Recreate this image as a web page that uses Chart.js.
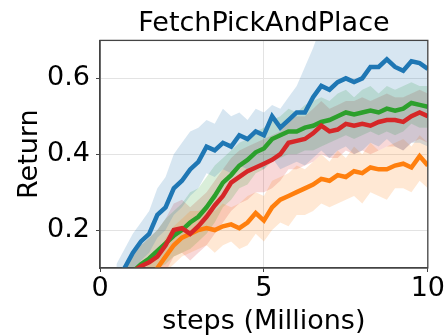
<!DOCTYPE html>
<html>
<head>
<meta charset="utf-8">
<script src="https://cdn.jsdelivr.net/npm/chart.js@4.4.1/dist/chart.umd.min.js"></script>
<style>
  body { margin: 0; background: #fff; }
  canvas { display: block; }
</style>
</head>
<body>
<canvas id="chart" width="448" height="335"></canvas>
<script>
// steps in millions
var steps = [0.5,0.75,1,1.25,1.5,1.75,2,2.25,2.5,2.75,3,3.25,3.5,3.75,4,4.25,4.5,4.75,5,
  5.25,5.5,5.75,6,6.25,6.5,6.75,7,7.25,7.5,7.75,8,8.25,8.5,8.75,9,9.25,9.5,9.75,10];

var blueMean = [0.07,0.10,0.14,0.17,0.19,0.24,0.26,0.31,0.33,0.36,0.38,0.42,0.41,0.43,0.42,0.45,0.44,0.46,0.45,
  0.50,0.47,0.49,0.51,0.51,0.55,0.58,0.57,0.59,0.60,0.59,0.60,0.63,0.63,0.65,0.63,0.62,0.645,0.64,0.625];
var blueHi = [0.11,0.15,0.19,0.22,0.25,0.31,0.34,0.40,0.43,0.46,0.47,0.49,0.48,0.52,0.50,0.51,0.49,0.52,0.51,
  0.53,0.52,0.55,0.58,0.63,0.68,0.74,0.76,0.78,0.78,0.78,0.78,0.78,0.78,0.78,0.78,0.78,0.78,0.78,0.78];
var blueLo = [0.03,0.06,0.09,0.12,0.14,0.18,0.20,0.24,0.26,0.29,0.31,0.35,0.34,0.36,0.35,0.37,0.36,0.37,0.36,
  0.39,0.36,0.37,0.38,0.37,0.39,0.41,0.39,0.41,0.42,0.40,0.41,0.43,0.42,0.44,0.42,0.41,0.43,0.43,0.42];

var orangeMean = [0.02,0.03,0.04,0.05,0.07,0.10,0.13,0.16,0.18,0.19,0.20,0.205,0.20,0.21,0.215,0.205,0.22,0.245,0.225,
  0.26,0.28,0.29,0.30,0.31,0.32,0.335,0.33,0.345,0.34,0.355,0.35,0.365,0.36,0.36,0.37,0.375,0.365,0.395,0.37];
var orangeHi = [0.05,0.06,0.08,0.09,0.11,0.14,0.18,0.21,0.23,0.25,0.25,0.26,0.25,0.27,0.26,0.27,0.29,0.30,0.29,
  0.33,0.34,0.35,0.37,0.36,0.38,0.40,0.38,0.41,0.39,0.42,0.40,0.43,0.41,0.42,0.43,0.44,0.42,0.45,0.43];
var orangeLo = [0.0,0.0,0.01,0.02,0.04,0.06,0.09,0.11,0.13,0.14,0.15,0.16,0.14,0.16,0.17,0.15,0.16,0.19,0.17,
  0.20,0.22,0.21,0.24,0.24,0.25,0.27,0.26,0.27,0.28,0.29,0.27,0.30,0.29,0.28,0.31,0.31,0.30,0.33,0.31];

var greenMean = [0.05,0.07,0.09,0.11,0.125,0.145,0.165,0.185,0.20,0.22,0.235,0.26,0.29,0.325,0.345,0.37,0.385,0.405,0.415,
  0.44,0.45,0.46,0.46,0.47,0.475,0.485,0.49,0.50,0.51,0.505,0.51,0.515,0.51,0.52,0.515,0.52,0.535,0.53,0.525];
var greenHi = [0.08,0.11,0.13,0.16,0.18,0.20,0.23,0.25,0.27,0.30,0.31,0.34,0.37,0.39,0.41,0.43,0.44,0.46,0.47,
  0.49,0.50,0.52,0.51,0.53,0.54,0.55,0.54,0.56,0.57,0.55,0.57,0.58,0.56,0.58,0.57,0.58,0.59,0.58,0.58];
var greenLo = [0.02,0.03,0.05,0.07,0.08,0.10,0.11,0.13,0.14,0.15,0.17,0.19,0.22,0.26,0.28,0.31,0.32,0.35,0.36,
  0.38,0.39,0.40,0.40,0.41,0.41,0.42,0.43,0.44,0.45,0.44,0.45,0.46,0.45,0.46,0.45,0.46,0.48,0.47,0.47];

var redMean = [0.04,0.07,0.09,0.105,0.115,0.13,0.16,0.20,0.205,0.19,0.21,0.235,0.265,0.29,0.325,0.34,0.355,0.365,0.375,
  0.385,0.40,0.43,0.435,0.44,0.455,0.475,0.46,0.465,0.48,0.475,0.48,0.475,0.485,0.49,0.49,0.485,0.50,0.51,0.50];
var redHi = [0.08,0.11,0.14,0.16,0.18,0.20,0.23,0.27,0.28,0.26,0.28,0.30,0.33,0.36,0.39,0.41,0.42,0.43,0.44,
  0.45,0.46,0.49,0.50,0.50,0.52,0.54,0.52,0.53,0.54,0.54,0.55,0.54,0.55,0.56,0.55,0.55,0.56,0.57,0.56];
var redLo = [0.0,0.03,0.04,0.05,0.06,0.07,0.09,0.13,0.14,0.12,0.14,0.16,0.19,0.22,0.25,0.27,0.28,0.30,0.30,
  0.31,0.33,0.36,0.36,0.37,0.38,0.40,0.39,0.39,0.41,0.40,0.41,0.40,0.41,0.42,0.42,0.41,0.43,0.44,0.43];

var xTicks = [0, 5, 10];
var yTicks = [0.2, 0.4, 0.6];

var series = [
  {mean: blueMean, hi: blueHi, lo: blueLo, rgb: "31,119,180"},
  {mean: orangeMean, hi: orangeHi, lo: orangeLo, rgb: "255,127,14"},
  {mean: greenMean, hi: greenHi, lo: greenLo, rgb: "44,160,44"},
  {mean: redMean, hi: redHi, lo: redLo, rgb: "214,39,40"}
];

function pts(arr) {
  return arr.map(function (v, i) { return {x: steps[i], y: v}; });
}

var datasets = [];
series.forEach(function (s, k) {
  // band: upper edge filled down to the lower edge
  datasets.push({data: pts(s.hi), fill: "+1", backgroundColor: "rgba(" + s.rgb + ",0.18)",
    borderWidth: 0, pointRadius: 0, order: 20});
  datasets.push({data: pts(s.lo), fill: false, borderWidth: 0, pointRadius: 0, order: 20});
  datasets.push({data: pts(s.mean), fill: false, borderColor: "rgb(" + s.rgb + ")",
    borderWidth: 4.5, pointRadius: 0, tension: 0, order: 4 - k});
});

var frame = {
  id: "frame",
  afterDraw: function (chart) {
    var a = chart.chartArea, c = chart.ctx;
    c.save();
    c.strokeStyle = "#444";
    c.lineWidth = 1.3;
    c.strokeRect(a.left, a.top, a.right - a.left, a.bottom - a.top);
    c.restore();
  }
};

var font = "'DejaVu Sans', sans-serif";

new Chart(document.getElementById("chart"), {
  type: "line",
  data: {datasets: datasets},
  plugins: [frame],
  options: {
    responsive: false,
    animation: false,
    layout: {padding: {right: 19}},
    plugins: {
      legend: {display: false},
      tooltip: {enabled: false},
      title: {
        display: true,
        fullSize: false,
        text: "FetchPickAndPlace",
        color: "#000",
        font: {family: font, size: 27, weight: "normal", lineHeight: 1.2},
        padding: {top: 8, bottom: 0}
      }
    },
    scales: {
      x: {
        type: "linear",
        min: 0, max: 10,
        afterBuildTicks: function (scale) {
          scale.ticks = xTicks.map(function (v) { return {value: v}; });
        },
        afterFit: function (scale) { scale.height = 67; },
        grid: {color: "#e3e3e3", tickColor: "#444", tickLength: 4},
        border: {color: "#444", width: 1.3},
        ticks: {color: "#000", padding: 3, maxRotation: 0,
          font: {family: font, size: 27, lineHeight: 1}},
        title: {display: true, text: "steps (Millions)", color: "#000",
          font: {family: font, size: 27, lineHeight: 1}, padding: {top: 0, bottom: 0}}
      },
      y: {
        min: 0.1, max: 0.7,
        afterBuildTicks: function (scale) {
          scale.ticks = yTicks.map(function (v) { return {value: v}; });
        },
        afterFit: function (scale) { scale.width = 100; },
        grid: {color: "#e3e3e3", tickColor: "#444", tickLength: 4},
        border: {color: "#444", width: 1.3},
        ticks: {color: "#000", padding: 6,
          font: {family: font, size: 27, lineHeight: 1},
          callback: function (v) { return v.toFixed(1); }},
        title: {display: true, text: "Return", color: "#000",
          font: {family: font, size: 27, lineHeight: 1}, padding: {top: 16, bottom: 0}}
      }
    }
  }
});
</script>
</body>
</html>
